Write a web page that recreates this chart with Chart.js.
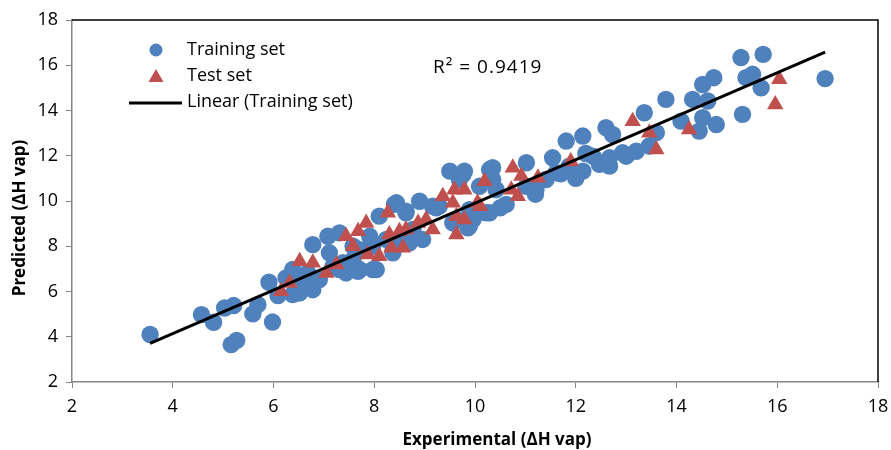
<!DOCTYPE html>
<html>
<head>
<meta charset="utf-8">
<script src="https://cdn.jsdelivr.net/npm/chart.js@4.4.1/dist/chart.umd.min.js"></script>
<style>
  html, body { margin: 0; padding: 0; background: #fff; }
  #wrap { width: 891px; height: 450px; }
</style>
</head>
<body>
<div id="wrap"><canvas id="parityChart" width="891" height="450"></canvas></div>
<script>
// values: [experimental, predicted]
const trainingSet = [
  [3.55, 4.1], [4.57, 4.98], [4.81, 4.64], [5.03, 5.27], [5.21, 5.38], [5.16, 3.65],
  [5.27, 3.84], [5.59, 5.01], [5.69, 5.42], [5.98, 4.65], [5.91, 6.41], [6.09, 5.82],
  [6.25, 6.6], [6.38, 5.86], [6.5, 5.94], [6.78, 6.08], [6.78, 8.07], [7.08, 8.44],
  [7.31, 8.59], [6.58, 6.53], [6.38, 6.97], [6.68, 6.82], [6.52, 5.94], [7.11, 7.71],
  [7.38, 7.27], [7.58, 7.41], [7.31, 6.97], [7.68, 6.89], [7.97, 6.97], [8.1, 9.33],
  [8.4, 9.85], [8.9, 9.99], [9.16, 9.77], [7.71, 7.85], [7.97, 8.0], [8.24, 8.3],
  [8.37, 7.71], [8.63, 8.3], [8.77, 8.74], [8.63, 9.48], [8.96, 8.3], [9.29, 9.77],
  [9.56, 9.03], [9.89, 8.89], [9.69, 10.95], [8.44, 9.92], [9.5, 11.32], [9.76, 11.17],
  [10.29, 11.39], [10.35, 10.95], [8.04, 6.97], [7.71, 6.97], [8.63, 9.55], [9.23, 9.7],
  [9.89, 9.62], [10.22, 9.48], [8.37, 8.0], [8.7, 8.15], [9.63, 9.18], [7.44, 6.82],
  [7.18, 7.11], [6.91, 6.53], [7.91, 8.44], [7.58, 8.0], [13.36, 13.9], [12.6, 13.24],
  [12.73, 12.94], [12.14, 12.87], [11.81, 12.65], [11.54, 11.91], [11.87, 11.54], [12.14, 11.32],
  [12.47, 11.62], [12.67, 11.54], [12.93, 12.13], [13.2, 12.2], [13.46, 12.43], [12.57, 11.69],
  [11.02, 11.69], [10.35, 11.47], [9.79, 11.32], [11.21, 10.5], [11.41, 10.95], [11.61, 11.25],
  [11.02, 10.65], [10.62, 9.85], [10.29, 9.48], [9.96, 9.18], [9.86, 8.81], [10.42, 10.5],
  [10.09, 10.65], [15.28, 16.34], [15.72, 16.48], [16.95, 15.41], [15.51, 15.6], [15.38, 15.45],
  [15.68, 15.0], [15.31, 13.83], [14.79, 13.38], [14.45, 13.09], [14.52, 13.68], [14.62, 14.42],
  [14.32, 14.49], [14.52, 15.15], [14.74, 15.45], [13.79, 14.49], [14.09, 13.53], [13.6, 13.02],
  [12.34, 11.98], [12.67, 11.91], [13.0, 11.98], [11.7, 11.2], [11.2, 10.3], [10.1, 9.5],
  [10.5, 9.7], [12.0, 11.0], [12.2, 12.1]
];

const testSet = [
  [6.15, 6.01], [6.32, 6.38], [6.52, 7.34], [6.78, 7.27], [7.05, 6.82], [7.25, 7.19],
  [7.44, 8.44], [7.58, 8.0], [7.68, 8.66], [7.84, 9.03], [7.87, 7.63], [8.1, 7.56],
  [8.27, 9.48], [8.3, 8.52], [8.34, 7.93], [8.5, 8.66], [8.57, 7.93], [8.87, 9.03],
  [9.03, 9.18], [9.16, 8.74], [9.36, 10.21], [9.59, 10.5], [9.63, 8.52], [9.79, 9.18],
  [9.79, 10.5], [8.63, 8.74], [9.56, 9.92], [9.63, 9.33], [10.1, 9.77], [10.19, 10.87],
  [10.75, 11.47], [10.92, 11.1], [11.25, 11.03], [10.72, 10.5], [10.85, 10.21], [10.05, 9.92],
  [11.9, 11.75], [13.13, 13.53], [13.46, 13.02], [13.6, 12.28], [14.25, 13.16], [16.04, 15.38],
  [15.96, 14.27]
];

const xTicks = [2, 4, 6, 8, 10, 12, 14, 16, 18];
const yTicks = [2, 4, 6, 8, 10, 12, 14, 16, 18];
const r2Text = 'R\u00b2 = 0.9419';
const xTitle = 'Experimental (\u0394H vap)';
const yTitle = 'Predicted (\u0394H vap)';

const BLUE = '#4F81BD';
const RED = '#C0504D';
const FONT = "'Open Sans', 'Liberation Sans', sans-serif";

// least squares line through the training set, drawn between its min and max x
function trendLine(points) {
  const n = points.length;
  let sx = 0, sy = 0, sxx = 0, sxy = 0;
  points.forEach(([x, y]) => { sx += x; sy += y; sxx += x * x; sxy += x * y; });
  const slope = (n * sxy - sx * sy) / (n * sxx - sx * sx);
  const icpt = (sy - slope * sx) / n;
  const xs = points.map(p => p[0]);
  const x0 = Math.min(...xs), x1 = Math.max(...xs);
  return [{ x: x0, y: slope * x0 + icpt }, { x: x1, y: slope * x1 + icpt }];
}

const toXY = arr => arr.map(([x, y]) => ({ x, y }));

// legend, R² label, axis titles and the black frame on top/right
const decorations = {
  id: 'decorations',
  afterDraw(chart) {
    const { ctx, chartArea: a } = chart;
    ctx.save();
    ctx.strokeStyle = '#000';
    ctx.lineWidth = 1.5;
    ctx.beginPath();
    ctx.moveTo(a.left, a.top);
    ctx.lineTo(a.right, a.top);
    ctx.lineTo(a.right, a.bottom);
    ctx.stroke();

    ctx.font = '18px ' + FONT;
    ctx.fillStyle = '#000';
    ctx.textBaseline = 'middle';
    ctx.textAlign = 'left';

    // training set marker
    ctx.fillStyle = BLUE;
    ctx.beginPath();
    ctx.arc(156, 50, 6.5, 0, Math.PI * 2);
    ctx.fill();
    ctx.fillStyle = '#000';
    ctx.fillText('Training set', 187, 50);

    // test set marker
    ctx.fillStyle = RED;
    ctx.beginPath();
    ctx.moveTo(156, 69);
    ctx.lineTo(163.5, 82);
    ctx.lineTo(148.5, 82);
    ctx.closePath();
    ctx.fill();
    ctx.fillStyle = '#000';
    ctx.fillText('Test set', 187, 76);

    // trend line
    ctx.strokeStyle = '#000';
    ctx.lineWidth = 3;
    ctx.beginPath();
    ctx.moveTo(129, 103);
    ctx.lineTo(182, 103);
    ctx.stroke();
    ctx.fillText('Linear (Training set)', 187, 102);

    ctx.font = '19px ' + FONT;
    ctx.letterSpacing = '1px';
    ctx.fillText(r2Text, 433, 68);
    ctx.letterSpacing = '0px';

    // axis titles
    ctx.font = 'bold 17px ' + FONT;
    ctx.textAlign = 'center';
    ctx.fillText(xTitle, 497, 440);
    ctx.translate(20, 218);
    ctx.rotate(-Math.PI / 2);
    ctx.fillText(yTitle, 0, 0);
    ctx.restore();
  }
};

const ctxParity = document.getElementById('parityChart');
new Chart(ctxParity, {
  type: 'scatter',
  data: {
    datasets: [
      {
        label: 'Linear (Training set)',
        data: trendLine(trainingSet),
        showLine: true,
        borderColor: '#000',
        borderWidth: 3,
        pointRadius: 0,
        order: 0
      },
      {
        label: 'Test set',
        data: toXY(testSet),
        pointStyle: 'triangle',
        pointRadius: 9.5,
        backgroundColor: RED,
        borderColor: RED,
        borderWidth: 0,
        order: 1
      },
      {
        label: 'Training set',
        data: toXY(trainingSet),
        pointStyle: 'circle',
        pointRadius: 8.7,
        backgroundColor: BLUE,
        borderColor: BLUE,
        borderWidth: 0,
        order: 2
      }
    ]
  },
  options: {
    responsive: false,
    animation: false,
    layout: { padding: { top: 20, right: 13, left: 0, bottom: 0 } },
    plugins: {
      legend: { display: false },
      tooltip: { enabled: false }
    },
    scales: {
      x: {
        type: 'linear',
        min: xTicks[0],
        max: xTicks[xTicks.length - 1],
        afterBuildTicks: s => { s.ticks = xTicks.map(v => ({ value: v })); },
        afterFit: s => { s.height = 68; s.paddingLeft = 0; s.paddingRight = 0; },
        grid: { drawOnChartArea: false, color: '#868686', tickLength: 6, tickColor: '#868686' },
        border: { color: '#868686', width: 1.5 },
        ticks: { color: '#000', padding: 8, font: { family: FONT, size: 18 } }
      },
      y: {
        type: 'linear',
        min: yTicks[0],
        max: yTicks[yTicks.length - 1],
        afterBuildTicks: s => { s.ticks = yTicks.map(v => ({ value: v })); },
        afterFit: s => { s.width = 72; s.paddingTop = 0; s.paddingBottom = 0; },
        grid: { drawOnChartArea: false, color: '#868686', tickLength: 6, tickColor: '#868686' },
        border: { color: '#868686', width: 1.5 },
        ticks: { color: '#000', padding: 8, font: { family: FONT, size: 18 } }
      }
    }
  },
  plugins: [decorations]
});
</script>
</body>
</html>
